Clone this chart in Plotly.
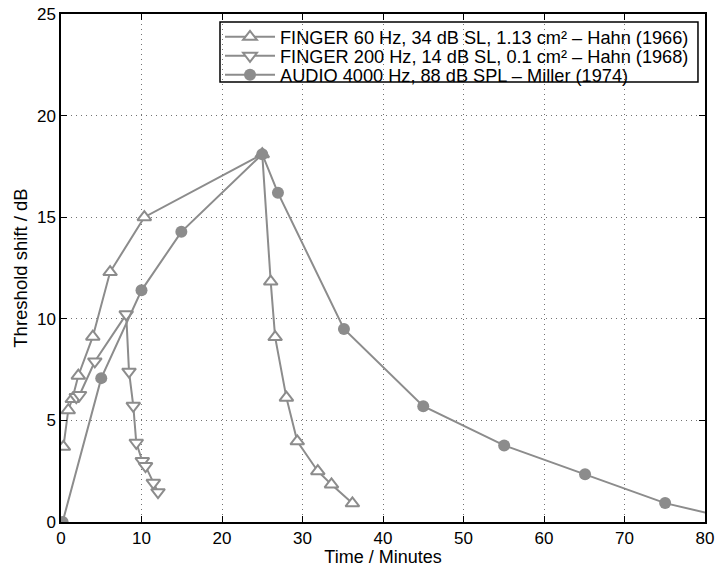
import plotly.graph_objects as go

# Series data
finger60_x = [0.3, 0.9, 1.4, 2.15, 3.95, 6.1, 10.35, 25.0, 26.05, 26.6, 28.0, 29.35, 31.9, 33.6, 36.2]
finger60_y = [3.7, 5.5, 6.05, 7.2, 9.12, 12.3, 15.0, 18.1, 11.83, 9.1, 6.12, 3.97, 2.5, 1.85, 0.92]

finger200_x = [1.9, 2.3, 4.2, 8.1, 8.45, 8.98, 9.35, 10.1, 10.5, 11.47, 12.05]
finger200_y = [6.15, 6.25, 7.9, 10.22, 7.4, 5.72, 3.9, 3.0, 2.75, 1.93, 1.47]

audio_x = [0.2, 5.0, 10.0, 14.95, 25.0, 26.95, 35.15, 45.0, 55.05, 65.1, 75.05, 85.0]
audio_y = [0.0, 7.08, 11.4, 14.28, 18.1, 16.2, 9.5, 5.7, 3.77, 2.35, 0.93, 0.0]

x_ticks = [0, 10, 20, 30, 40, 50, 60, 70, 80]
y_ticks = [0, 5, 10, 15, 20, 25]

names = [
    "FINGER 60 Hz, 34 dB SL, 1.13 cm² – Hahn (1966)",
    "FINGER 200 Hz, 14 dB SL, 0.1 cm² – Hahn (1968)",
    "AUDIO 4000 Hz, 88 dB SPL – Miller (1974)",
]

GRAY = "#8c8c8c"
FONT = "Liberation Sans, Arial, sans-serif"

fig = go.Figure()
fig.add_trace(go.Scatter(
    x=finger60_x, y=finger60_y, name=names[0], mode="lines+markers", legend="legend",
    showlegend=True,
    line=dict(color=GRAY, width=2),
    marker=dict(symbol="triangle-up", size=12, color="white", line=dict(color=GRAY, width=2)),
))
fig.add_trace(go.Scatter(
    x=finger200_x, y=finger200_y, name=names[1], mode="lines+markers", legend="legend2",
    showlegend=True,
    line=dict(color=GRAY, width=2),
    marker=dict(symbol="triangle-down", size=12, color="white", line=dict(color=GRAY, width=2)),
))
fig.add_trace(go.Scatter(
    x=audio_x, y=audio_y, name=names[2], mode="lines+markers", legend="legend3",
    showlegend=True,
    line=dict(color=GRAY, width=2),
    marker=dict(symbol="circle", size=12, color=GRAY, line=dict(color=GRAY, width=0)),
    cliponaxis=True,
))

axis_common = dict(
    showline=True, linecolor="black", linewidth=1.5, mirror="ticks",
    ticks="inside", ticklen=6, tickwidth=1, tickcolor="black",
    showgrid=True, gridcolor="rgba(0,0,0,0.55)", gridwidth=1, griddash="1px,4px",
    zeroline=False, automargin=False,
    tickfont=dict(family=FONT, size=17, color="black"),
)

fig.update_xaxes(
    range=[0, 80], tickvals=x_ticks, ticktext=[str(v) for v in x_ticks],
    title=dict(text="Time / Minutes", font=dict(family=FONT, size=18, color="black"), standoff=0),
    **axis_common,
)
fig.update_yaxes(
    range=[0, 25], tickvals=y_ticks, ticktext=[str(v) for v in y_ticks],
    title=dict(text="Threshold shift / dB", font=dict(family=FONT, size=18.5, color="black"), standoff=4),
    **axis_common,
)

# legend frame (drawn as a shape so the rows can sit tightly like the original)
fig.add_shape(
    type="rect", xref="paper", yref="paper",
    x0=0.2469, x1=0.9891, y0=0.8661, y1=0.9843,
    line=dict(color="black", width=1.5), fillcolor="white", layer="between",
)

leg_common = dict(
    x=0.2469, xanchor="left", yanchor="middle",
    bgcolor="rgba(0,0,0,0)", borderwidth=0,
    font=dict(family=FONT, size=18.2, color="black"),
    itemwidth=50, visible=True,
)

fig.update_layout(
    width=715, height=567,
    margin=dict(l=61, r=10, t=14, b=45, autoexpand=False),
    plot_bgcolor="white", paper_bgcolor="white",
    font=dict(family=FONT, size=17, color="black"),
    showlegend=True,
    legend=dict(y=0.9547, **leg_common),
    legend2=dict(y=0.9173, **leg_common),
    legend3=dict(y=0.8799, **leg_common),
)

fig.write_html("out.html")
